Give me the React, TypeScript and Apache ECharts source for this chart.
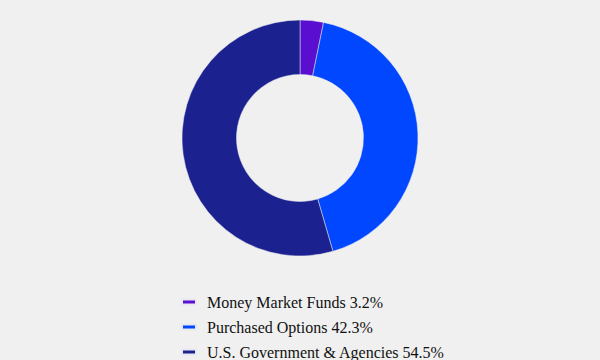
import React, { useEffect, useRef } from "react";
import * as echarts from "echarts";

const categories = ["Money Market Funds", "Purchased Options", "U.S. Government & Agencies"];
const values = [3.2, 42.3, 54.5];
const colors = ["#5a0fd0", "#0047ff", "#1c2190"];

const FONT = "Liberation Serif";

export default function App() {
  const ref = useRef<HTMLDivElement>(null);
  useEffect(() => {
    document.body.style.margin = "0";
    const chart = echarts.init(ref.current!, undefined, { renderer: "svg" });
    chart.setOption({
      animation: false,
      backgroundColor: "#f0f0f0",
      color: colors,
      textStyle: { fontFamily: FONT },
      legend: {
        orient: "vertical",
        left: 181,
        top: 294,
        height: 66,
        padding: 0,
        itemWidth: 14,
        itemHeight: 5,
        itemGap: 9,
        icon: "rect",
        textStyle: {
          fontFamily: FONT,
          fontSize: 16,
          color: "#111",
          padding: [0, 0, 0, 6],
        },
        formatter: (name: string) => {
          const i = categories.indexOf(name);
          return `${name} ${values[i].toFixed(1)}%`;
        },
        data: categories,
      },
      series: [
        {
          type: "pie",
          center: [300, 138],
          radius: [63.5, 118],
          startAngle: 90,
          clockwise: true,
          label: { show: false },
          labelLine: { show: false },
          itemStyle: { borderColor: "#e8e8f0", borderWidth: 0.5 },
          emphasis: { disabled: true },
          data: categories.map((c, i) => ({ name: c, value: values[i] })),
        },
      ],
    });
    return () => chart.dispose();
  }, []);
  return <div ref={ref} style={{ width: 600, height: 360 }} />;
}
